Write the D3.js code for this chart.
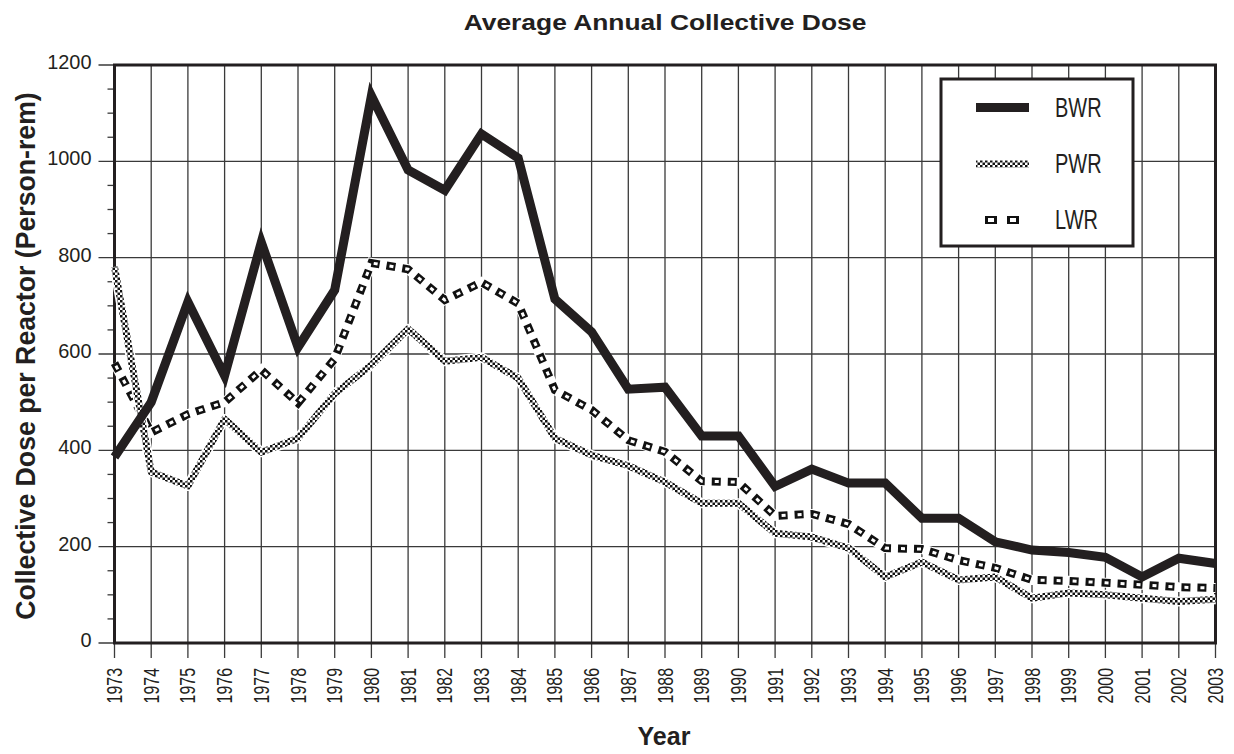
<!DOCTYPE html>
<html>
<head>
<meta charset="utf-8">
<script src="https://cdn.jsdelivr.net/npm/d3@7"></script>
<style>
  body { margin: 0; background: #fff; }
  text { font-family: "Liberation Sans", Arial, Helvetica, sans-serif; fill: #231f20; }
</style>
</head>
<body>
<div id="chart"></div>
<script>
// Average annual collective dose per reactor

var years = d3.range(1973, 2004);

var bwr = [386, 500, 708, 555, 832, 614, 733, 1136, 982, 940, 1057, 1007, 714, 646, 527, 531,
           430, 430, 325, 361, 332, 332, 259, 259, 210, 193, 188, 178, 137, 176, 165];
var pwr = [781, 355, 326, 465, 396, 425, 518, 577, 652, 585, 593, 550, 425, 390, 368, 334,
           290, 290, 228, 220, 197, 137, 168, 131, 137, 93, 104, 100, 93, 86, 91];
var lwr = [581, 437, 475, 500, 567, 498, 590, 789, 776, 712, 749, 705, 525, 484, 421, 397,
           336, 334, 264, 268, 247, 197, 195, 172, 156, 131, 129, 125, 121, 116, 114];

var seriesNames = ["BWR", "PWR", "LWR"];
var yTicks = [0, 200, 400, 600, 800, 1000, 1200];

var width = 1234,
    height = 754,
    margin = {left: 114.5, right: 18.5, top: 65, bottom: 111};

var svg = d3.select("#chart").append("svg")
  .attr("width", width)
  .attr("height", height);

var defs = svg.append("defs");
var checker = defs.append("pattern")
  .attr("id", "checker")
  .attr("patternUnits", "userSpaceOnUse")
  .attr("width", 5)
  .attr("height", 5);
checker.append("rect").attr("width", 5).attr("height", 5).attr("fill", "#fff");
checker.append("rect").attr("width", 2.5).attr("height", 2.5).attr("fill", "#111");
checker.append("rect").attr("x", 2.5).attr("y", 2.5).attr("width", 2.5).attr("height", 2.5).attr("fill", "#111");

var x = d3.scaleLinear()
  .domain([1973, 2003])
  .range([margin.left, width - margin.right]);

var y = d3.scaleLinear()
  .domain([0, 1200])
  .range([height - margin.bottom, margin.top]);

var x0 = x.range()[0], x1 = x.range()[1];
var y0 = y.range()[0], y1 = y.range()[1];

// grid
svg.append("g").selectAll("line")
  .data(years)
  .enter().append("line")
  .attr("x1", function(d) { return x(d); })
  .attr("x2", function(d) { return x(d); })
  .attr("y1", y1)
  .attr("y2", y0 + 15)
  .attr("stroke", "#3a3a3a")
  .attr("stroke-width", 1.3);

svg.append("g").selectAll("line")
  .data(yTicks)
  .enter().append("line")
  .attr("x1", x0 - 16)
  .attr("x2", x1)
  .attr("y1", function(d) { return y(d); })
  .attr("y2", function(d) { return y(d); })
  .attr("stroke", "#3a3a3a")
  .attr("stroke-width", 1.3);

// minor ticks every 50
svg.append("g").selectAll("line")
  .data(d3.range(50, 1200, 50).filter(function(d) { return d % 200 != 0; }))
  .enter().append("line")
  .attr("x1", x0 - 7)
  .attr("x2", x0)
  .attr("y1", function(d) { return y(d); })
  .attr("y2", function(d) { return y(d); })
  .attr("stroke", "#3a3a3a")
  .attr("stroke-width", 1.3);

// frame
svg.append("rect")
  .attr("x", x0)
  .attr("y", y1)
  .attr("width", x1 - x0)
  .attr("height", y0 - y1)
  .attr("fill", "none")
  .attr("stroke", "#231f20")
  .attr("stroke-width", 3);

// tick labels
svg.append("g").selectAll("text")
  .data(yTicks)
  .enter().append("text")
  .attr("transform", function(d) { return "translate(" + (x0 - 23) + "," + (y(d) + 4) + ") scale(0.95,1)"; })
  .attr("text-anchor", "end")
  .style("font-size", "21px")
  .text(function(d) { return d; });

svg.append("g").selectAll("text")
  .data(years)
  .enter().append("text")
  .attr("transform", function(d) {
    return "translate(" + (x(d) + 7.5) + "," + (y0 + 25) + ") rotate(-90) scale(0.74,1)";
  })
  .attr("text-anchor", "end")
  .style("font-size", "21.5px")
  .text(function(d) { return d; });

// lines
var line = d3.line()
  .x(function(d, i) { return x(years[i]); })
  .y(function(d) { return y(d); });

var plot = svg.append("g");

plot.append("path").attr("d", line(lwr))
  .attr("fill", "none").attr("stroke", "#fff").attr("stroke-width", 10);
plot.append("path").attr("d", line(lwr))
  .attr("fill", "none").attr("stroke", "#111").attr("stroke-width", 8)
  .attr("stroke-dasharray", "9,7");
plot.append("path").attr("d", line(lwr))
  .attr("fill", "none").attr("stroke", "#fff").attr("stroke-width", 3)
  .attr("stroke-dasharray", "4,12").attr("stroke-dashoffset", -3);

plot.append("path").attr("d", line(pwr))
  .attr("fill", "none").attr("stroke", "#fff").attr("stroke-width", 10)
  .attr("stroke-linejoin", "round");
plot.append("path").attr("d", line(pwr))
  .attr("fill", "none").attr("stroke", "url(#checker)").attr("stroke-width", 7)
  .attr("stroke-linejoin", "round");

plot.append("path").attr("d", line(bwr))
  .attr("fill", "none").attr("stroke", "#231f20").attr("stroke-width", 9)
  .attr("stroke-linejoin", "miter");

// legend
var legend = svg.append("g");
legend.append("rect")
  .attr("x", 941).attr("y", 79)
  .attr("width", 192).attr("height", 167)
  .attr("fill", "#fff")
  .attr("stroke", "#231f20")
  .attr("stroke-width", 3);

var legY = [107.5, 164, 220];
legend.append("line")
  .attr("x1", 976).attr("x2", 1029).attr("y1", legY[0]).attr("y2", legY[0])
  .attr("stroke", "#231f20").attr("stroke-width", 9);
legend.append("line")
  .attr("x1", 976).attr("x2", 1029).attr("y1", legY[1]).attr("y2", legY[1])
  .attr("stroke", "url(#checker)").attr("stroke-width", 7);
legend.append("line")
  .attr("x1", 985).attr("x2", 1029).attr("y1", legY[2]).attr("y2", legY[2])
  .attr("stroke", "#111").attr("stroke-width", 8)
  .attr("stroke-dasharray", "12,10");
legend.append("line")
  .attr("x1", 985).attr("x2", 1029).attr("y1", legY[2]).attr("y2", legY[2])
  .attr("stroke", "#fff").attr("stroke-width", 4)
  .attr("stroke-dasharray", "6,16").attr("stroke-dashoffset", -3);

legend.selectAll("text")
  .data(seriesNames)
  .enter().append("text")
  .attr("transform", function(d, i) { return "translate(1055," + (legY[i] + 9) + ") scale(0.74,1)"; })
  .style("font-size", "27px")
  .text(function(d) { return d; });

// titles
svg.append("text")
  .attr("transform", "translate(665,30) scale(1.2,1)")
  .attr("text-anchor", "middle")
  .style("font-size", "22px")
  .style("font-weight", "bold")
  .text("Average Annual Collective Dose");

svg.append("text")
  .attr("x", 664)
  .attr("y", 745)
  .attr("text-anchor", "middle")
  .style("font-size", "25px")
  .style("font-weight", "bold")
  .text("Year");

svg.append("text")
  .attr("transform", "translate(35,356) rotate(-90) scale(0.97,1)")
  .attr("text-anchor", "middle")
  .style("font-size", "27.5px")
  .style("font-weight", "bold")
  .text("Collective Dose per Reactor (Person-rem)");
</script>
</body>
</html>
